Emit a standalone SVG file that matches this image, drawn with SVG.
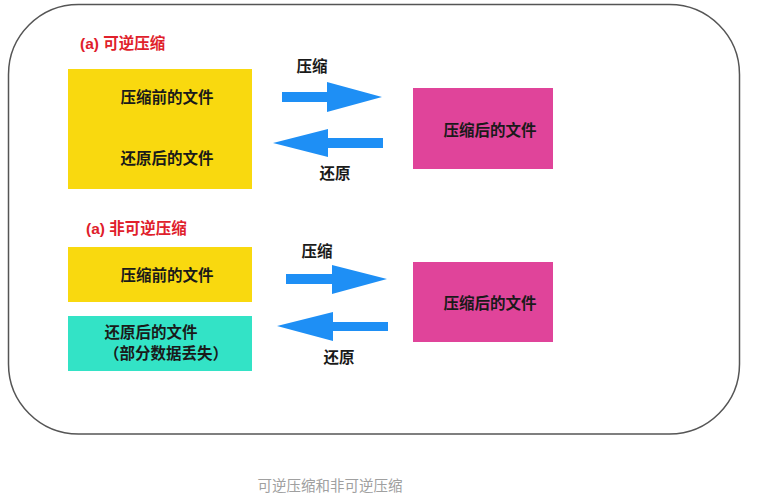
<svg xmlns="http://www.w3.org/2000/svg" width="766" height="500" viewBox="0 0 766 500">
<style>
.t{font-family:"Liberation Sans","Noto Sans CJK SC",sans-serif;font-weight:bold;font-size:15.5px;fill:#1a1a1a;dominant-baseline:central}
.h{font-family:"Liberation Sans","Noto Sans CJK SC",sans-serif;font-weight:bold;font-size:15.5px;fill:#e0202b;dominant-baseline:central}
.c{font-family:"Noto Sans CJK SC",sans-serif;font-size:14.5px;fill:#a0a0a0;dominant-baseline:central}
.y{fill:#f9d90f}
.p{fill:#e0449a}
.g{fill:#33e3c6}
.a{fill:#1e8ff5}
</style>
<rect x="0" y="0" width="766" height="500" fill="#ffffff"/>
<rect x="8.5" y="4.5" width="731" height="429.5" rx="70" ry="70" fill="none" stroke="#555" stroke-width="1.5"/>
<g id="heading1"><text class="h" x="80" y="43">(a) 可逆压缩</text></g>
<g id="src1"><rect class="y" x="68" y="69" width="184" height="120"/>
<text class="t" x="167" y="97" text-anchor="middle">压缩前的文件</text>
<text class="t" x="167" y="158" text-anchor="middle">还原后的文件</text></g>
<g id="dst1"><rect class="p" x="413" y="88" width="140" height="81"/>
<text class="t" x="490" y="130" text-anchor="middle">压缩后的文件</text></g>
<g id="heading2"><text class="h" x="86" y="228">(a) 非可逆压缩</text></g>
<g id="src2"><rect class="y" x="68" y="247" width="184" height="55"/>
<text class="t" x="167" y="275" text-anchor="middle">压缩前的文件</text></g>
<g id="rest2"><rect class="g" x="68" y="316" width="184" height="55"/>
<text class="t" x="151" y="332" text-anchor="middle">还原后的文件</text>
<text class="t" x="166" y="353" text-anchor="middle">（部分数据丢失）</text></g>
<g id="dst2"><rect class="p" x="413" y="262" width="140" height="80"/>
<text class="t" x="490" y="303" text-anchor="middle">压缩后的文件</text></g>
<g id="connectors">
<polygon class="a" points="282,92 327,92 327,82 382,97 327,112 327,102 282,102"/>
<polygon class="a" points="383,138 328,138 328,129 273,143 328,157 328,148 383,148"/>
<text class="t" x="312" y="66" text-anchor="middle">压缩</text>
<text class="t" x="335" y="173" text-anchor="middle">还原</text>
<polygon class="a" points="286,274 332,274 332,265 387,279 332,294 332,284 286,284"/>
<polygon class="a" points="388,322 333,322 333,312 277,326 333,341 333,331 388,331"/>
<text class="t" x="317" y="251" text-anchor="middle">压缩</text>
<text class="t" x="339" y="357" text-anchor="middle">还原</text>
</g>
<text class="c" x="330" y="484" text-anchor="middle">可逆压缩和非可逆压缩</text>
</svg>
